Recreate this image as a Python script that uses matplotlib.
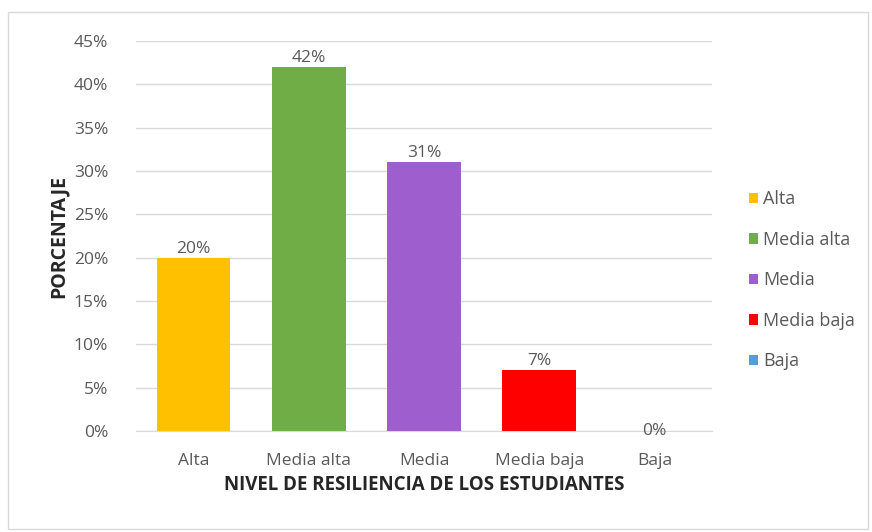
import matplotlib.pyplot as plt
from matplotlib.patches import Rectangle, Patch

categories = ['Alta', 'Media alta', 'Media', 'Media baja', 'Baja']
values = [0.20, 0.42, 0.31, 0.07, 0.00]
colors = ['#FFC000', '#70AD47', '#9E5ECE', '#FF0000', '#5B9BD5']
yticks = [0, 0.05, 0.10, 0.15, 0.20, 0.25, 0.30, 0.35, 0.40, 0.45]

plt.rcParams['font.family'] = ['Open Sans', 'DejaVu Sans']
grey = '#595959'

fig = plt.figure(figsize=(8.72, 5.32), dpi=100)
fig.patches.append(Rectangle((8/872, 3/532), 860/872, 517/532, transform=fig.transFigure,
                             fill=False, edgecolor='#D9D9D9', linewidth=1))
ax = fig.add_axes([136/872, 1 - 431/532, 576/872, 390/532])

x = range(len(categories))
bars = ax.bar(x, values, width=0.64, color=colors, zorder=3)
for i, v in enumerate(values):
    # excel puts the empty bar's label right on the axis line
    if v == 0:
        ax.text(i, 0, '0%', ha='center', va='center', fontsize=12.5, color=grey, zorder=4)
    else:
        ax.text(i, v + 0.001, f'{round(v*100)}%', ha='center', va='bottom',
                fontsize=12.5, color=grey, zorder=4)

ax.set_xlim(-0.5, len(categories) - 0.5)
ax.set_ylim(0, 0.45)
ax.set_yticks(yticks)
ax.set_yticklabels([f'{round(t*100)}%' for t in yticks])
ax.set_xticks(list(x))
ax.set_xticklabels(categories)
ax.tick_params(axis='both', length=0, labelsize=12.5, labelcolor=grey)
ax.tick_params(axis='y', pad=20)
ax.tick_params(axis='x', pad=16)
ax.grid(axis='y', color='#D9D9D9', linewidth=1, zorder=0)
for s in ['top', 'right', 'left']:
    ax.spines[s].set_visible(False)
ax.spines['bottom'].set_color('#D9D9D9')

ax.set_ylabel('PORCENTAJE', fontsize=14, fontweight='bold', color='#262626', labelpad=4)
ax.set_xlabel('NIVEL DE RESILIENCIA DE LOS ESTUDIANTES', fontsize=13.5,
              fontweight='bold', color='#262626', labelpad=4)

handles = [Patch(facecolor=c, label=l) for c, l in zip(colors, categories)]
fig.legend(handles=handles, loc='upper left', bbox_to_anchor=(742/872, 1 - 183/532),
           frameon=False, fontsize=13, labelcolor=grey, handlelength=0.5,
           handleheight=0.5, handletextpad=0.25, labelspacing=1.25, borderaxespad=0)

fig.savefig('out.png', dpi=100, facecolor='white')
